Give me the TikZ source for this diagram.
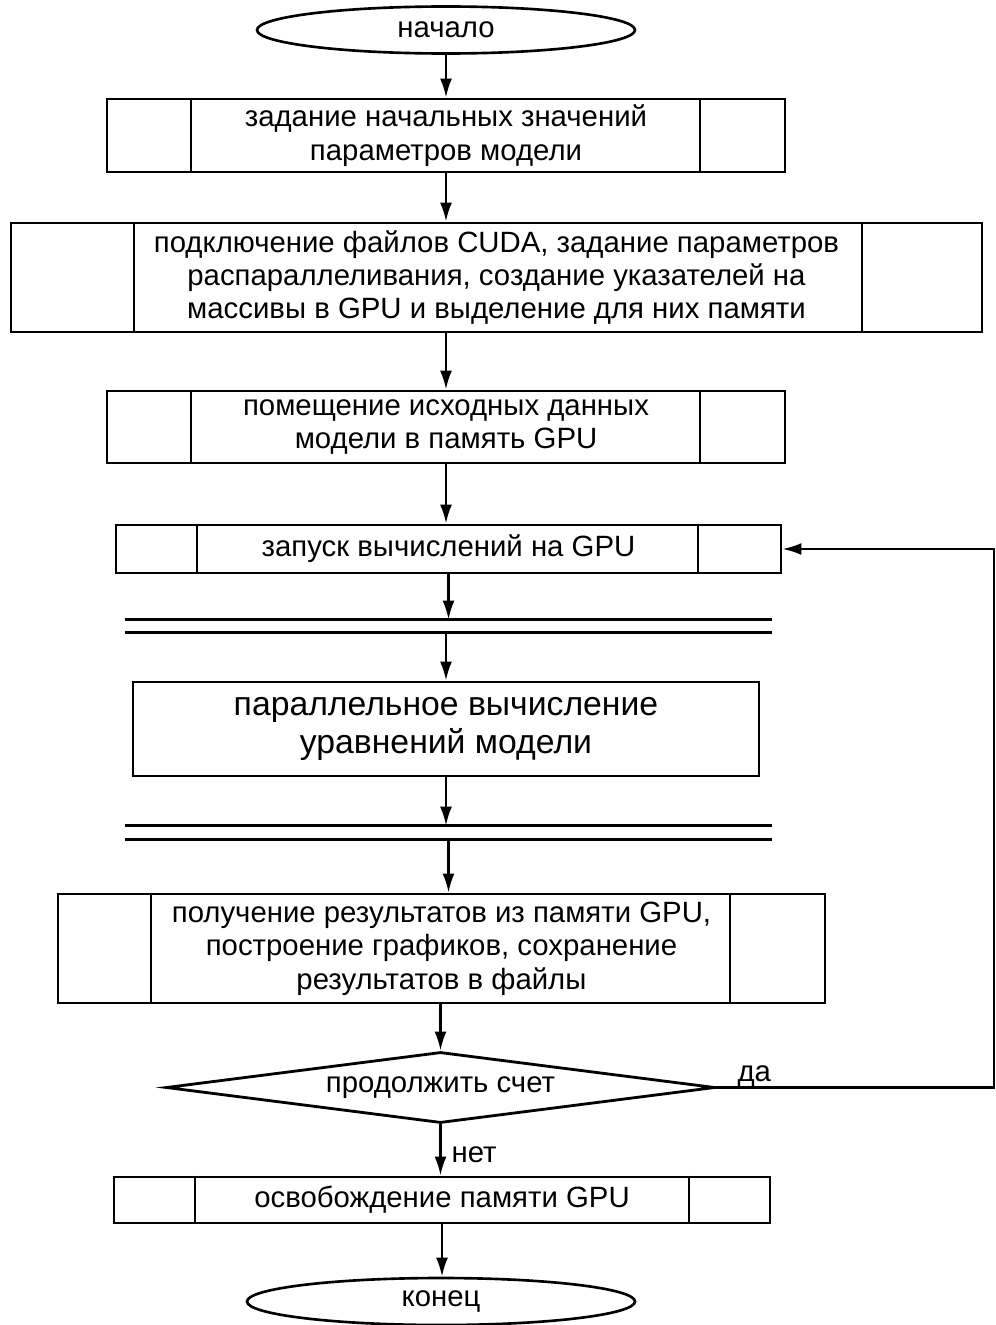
\documentclass[tikz,border=0pt]{standalone}
\usepackage{fontspec}
\setmainfont{Liberation Sans}
\usetikzlibrary{shapes.geometric,arrows.meta}

\tikzset{
  proc/.style={draw,line width=1.6pt,inner sep=0pt,align=center,
    font=\fontsize{16.7}{19}\selectfont},
  term/.style={draw,ellipse,line width=1.5pt,inner sep=0pt,
    font=\fontsize{16.7}{19}\selectfont},
  choice/.style={draw,diamond,aspect=7.7,line width=1.6pt,inner sep=0pt,
    minimum width=10.98cm,minimum height=1.42cm,font=\fontsize{16.7}{19}\selectfont},
  arr/.style={line width=1.4pt,-{Latex[length=0.38cm,width=0.24cm]}},
  sep/.style={line width=1.6pt},
  tag/.style={font=\fontsize{16.7}{19}\selectfont}
}

\begin{document}
\begin{tikzpicture}
    \useasboundingbox (0,0) rectangle (19.92,-26.5);

    \node[term,minimum width=7.56cm,minimum height=0.94cm] (start) at (8.92,-0.6) {начало};
    \node[proc,minimum width=13.56cm,minimum height=1.46cm] (b1) at (8.92,-2.71)
      {задание начальных значений\\параметров модели};
    \node[proc,minimum width=19.42cm,minimum height=2.18cm] (b2) at (9.93,-5.55)
      {подключение файлов CUDA, задание параметров\\распараллеливания, создание указателей на\\массивы в GPU и выделение для них памяти};
    \node[proc,minimum width=13.56cm,minimum height=1.44cm] (b3) at (8.92,-8.54)
      {помещение исходных данных\\модели в память GPU};
    \node[proc,minimum width=13.3cm,minimum height=0.96cm] (b4) at (8.97,-10.98)
      {запуск вычислений на GPU};
    \node[inner sep=0pt,minimum width=12.94cm,minimum height=0.24cm] (bar1) at (8.97,-12.52) {};
    \node[proc,minimum width=12.52cm,minimum height=1.88cm,
      font=\fontsize{19.2}{21.8}\selectfont] (b5) at (8.92,-14.58)
      {параллельное вычисление\\уравнений модели};
    \node[inner sep=0pt,minimum width=12.94cm,minimum height=0.26cm] (bar2) at (8.97,-16.65) {};
    \node[proc,minimum width=15.34cm,minimum height=2.18cm] (b6) at (8.83,-18.97)
      {получение результатов из памяти GPU,\\построение графиков, сохранение\\результатов в файлы};
    \node[choice] (dec) at (8.81,-21.75) {продолжить счет};
    \node[proc,minimum width=13.12cm,minimum height=0.92cm] (b7) at (8.84,-24.0)
      {освобождение памяти GPU};
    \node[term,minimum width=7.76cm,minimum height=0.94cm] (end) at (8.82,-26.03) {конец};

    % side lines of the predefined process boxes
    \foreach \n/\a/\b in {b1/1.70/1.72,b2/2.48/2.42,b3/1.70/1.72,b4/1.64/1.68,b6/1.88/1.92,b7/1.64/1.64}
      \draw[line width=1.1pt] ([xshift=\a cm]\n.north west) -- ([xshift=\a cm]\n.south west)
        ([xshift=-\b cm]\n.north east) -- ([xshift=-\b cm]\n.south east);

    \draw[sep] (bar1.north west) -- (bar1.north east) (bar1.south west) -- (bar1.south east);
    \draw[sep] (bar2.north west) -- (bar2.north east) (bar2.south west) -- (bar2.south east);

    \draw[arr] (start) -- (b1);
    \draw[arr] (b1.south) -- (b1.south |- b2.north);
    \draw[arr] (b3.north |- b2.south) -- (b3.north);
    \draw[arr] (b3.south) -- (b3.south |- b4.north);
    \draw[arr] (b4.south) -- (b4.south |- bar1.north);
    \draw[arr] (b5.north |- bar1.south) -- (b5.north);
    \draw[arr] (b5.south) -- (b5.south |- bar2.north);
    \draw[arr] (bar2.south) -- (bar2.south |- b6.north);
    \draw[arr] (dec.north |- b6.south) -- (dec.north);
    \draw[arr] (dec.south) -- node[tag,right,pos=0.6,xshift=0.08cm] (no) {нет} (dec.south |- b7.north);
    \draw[arr] (b7.south) -- (b7.south |- end.north);

    \coordinate (back) at (19.88,-21.75);
    \draw[arr] (dec.east) -- (back) |- (b4.east);
    \node[tag,anchor=south west,xshift=0.3cm,yshift=-0.12cm] (yes) at (dec.east) {да};
\end{tikzpicture}
\end{document}
